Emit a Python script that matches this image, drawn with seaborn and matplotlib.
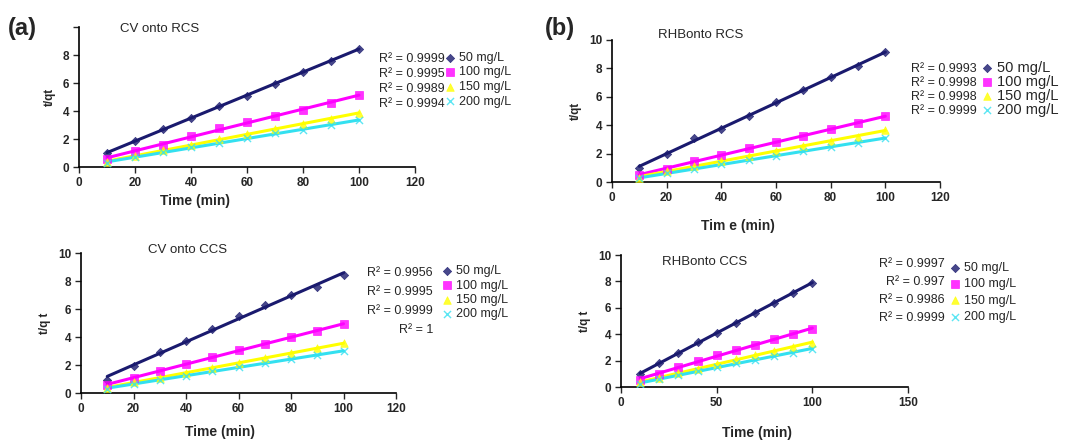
import numpy as np
import pandas as pd
import matplotlib
matplotlib.use("Agg")
import matplotlib.pyplot as plt
import seaborn as sns

# tiempos y series
tiempo = [10, 20, 30, 40, 50, 60, 70, 80, 90, 100]
concentraciones = ["50 mg/L", "100 mg/L", "150 mg/L", "200 mg/L"]

cv_rcs_50 = [1.0, 1.85, 2.7, 3.5, 4.35, 5.1, 5.95, 6.75, 7.6, 8.45]
cv_rcs_100 = [0.6, 1.15, 1.6, 2.2, 2.75, 3.2, 3.65, 4.1, 4.55, 5.15]
cv_rcs_150 = [0.35, 0.8, 1.2, 1.6, 2.0, 2.35, 2.7, 3.1, 3.45, 3.85]
cv_rcs_200 = [0.3, 0.7, 1.05, 1.4, 1.75, 2.05, 2.4, 2.65, 3.0, 3.35]
cv_rcs_r2 = ["0.9999", "0.9995", "0.9989", "0.9994"]

rhb_rcs_50 = [1.0, 2.0, 3.1, 3.7, 4.65, 5.6, 6.45, 7.4, 8.2, 9.15]
rhb_rcs_100 = [0.5, 0.95, 1.45, 1.9, 2.4, 2.8, 3.25, 3.7, 4.15, 4.65]
rhb_rcs_150 = [0.3, 0.75, 1.15, 1.5, 1.85, 2.2, 2.55, 2.9, 3.2, 3.65]
rhb_rcs_200 = [0.25, 0.6, 0.95, 1.25, 1.55, 1.85, 2.15, 2.5, 2.75, 3.1]
rhb_rcs_r2 = ["0.9993", "0.9998", "0.9998", "0.9999"]

cv_ccs_50 = [0.95, 1.9, 2.9, 3.75, 4.6, 5.5, 6.3, 7.0, 7.55, 8.4]
cv_ccs_100 = [0.6, 1.05, 1.55, 2.1, 2.6, 3.05, 3.5, 4.0, 4.45, 4.9]
cv_ccs_150 = [0.35, 0.8, 1.1, 1.45, 1.8, 2.15, 2.5, 2.85, 3.2, 3.55]
cv_ccs_200 = [0.3, 0.65, 0.95, 1.25, 1.55, 1.85, 2.15, 2.4, 2.7, 3.0]
cv_ccs_r2 = ["0.9956", "0.9995", "0.9999", "1"]

rhb_ccs_50 = [0.95, 1.8, 2.6, 3.4, 4.1, 4.85, 5.6, 6.4, 7.1, 7.9]
rhb_ccs_100 = [0.55, 1.0, 1.5, 1.95, 2.45, 2.8, 3.2, 3.6, 4.0, 4.4]
rhb_ccs_150 = [0.35, 0.7, 1.05, 1.4, 1.75, 2.1, 2.4, 2.75, 3.05, 3.35]
rhb_ccs_200 = [0.25, 0.6, 0.9, 1.2, 1.5, 1.8, 2.05, 2.35, 2.6, 2.9]
rhb_ccs_r2 = ["0.9997", "0.997", "0.9986", "0.9999"]

colores = ["#1a1a6e", "#ff00ff", "#ffff00", "#33e0f0"]
marcadores = ["D", "s", "^", "x"]
tamanos = [18, 26, 30, 26]

sns.set_style("ticks")
plt.rcParams['font.family'] = ['Liberation Sans', 'DejaVu Sans']

fig = plt.figure(figsize=(10.71, 4.44), dpi=100)
W, H = 1071, 444


def caja(x0, y0, x1, y1):
    # pasa pixeles (origen arriba-izq) a fraccion de figura
    return [x0 / W, 1 - y1 / H, (x1 - x0) / W, (y1 - y0) / H]


def panel(rect, series, r2, titulo, titulo_xy, xmax, xstep, ymax_label, ylab,
          r2_xy, paso_r2, leg_xy, paso_leg, fs_r2, fs_leg, xlab_xy, xlab_txt="Time (min)"):
    ax = fig.add_axes(caja(*rect))
    for serie, nombre, c, m, s in zip(series, concentraciones, colores, marcadores, tamanos):
        d = pd.DataFrame({"t": tiempo, "tq": serie})
        kws = dict(s=s, color=c, zorder=3)
        if m != "x":
            kws["edgecolor"] = c
            kws["linewidths"] = 0.5
        else:
            kws["linewidths"] = 1.0
        sns.regplot(data=d, x="t", y="tq", ax=ax, ci=None, truncate=True,
                    marker=m, label=nombre, scatter_kws=kws,
                    line_kws=dict(color=c, lw=2.2, zorder=2))
    ax.set_xlim(0, xmax)
    ax.set_ylim(0, 10)
    ax.set_xticks(np.arange(0, xmax + 1, xstep))
    ax.set_yticks([0, 2, 4, 6, 8, 10])
    if not ymax_label:
        ax.set_yticklabels(["0", "2", "4", "6", "8", ""])
    ax.tick_params(labelsize=8.5, length=4, width=1, direction="out", pad=3)
    for lab in ax.get_xticklabels() + ax.get_yticklabels():
        lab.set_fontweight("bold")
    sns.despine(ax=ax)
    for sp in ["left", "bottom"]:
        ax.spines[sp].set_linewidth(1.2)
        ax.spines[sp].set_color("black")
    ax.set_xlabel("")
    ax.set_ylabel(ylab, fontsize=8.5, fontweight="bold", labelpad=5)
    fig.text(titulo_xy[0] / W, 1 - titulo_xy[1] / H, titulo, fontsize=9.5,
             ha="left", va="center")
    fig.text(xlab_xy[0] / W, 1 - xlab_xy[1] / H, xlab_txt,
             fontsize=10, fontweight="bold", ha="center", va="center")
    # valores de R2
    for i, txt in enumerate(r2):
        fig.text(r2_xy[0] / W, 1 - (r2_xy[1] + paso_r2 * i) / H,
                 "R² = " + txt, fontsize=fs_r2, ha="right", va="center")
    ax.legend(loc="upper left", bbox_to_anchor=(leg_xy[0] / W, 1 - leg_xy[1] / H),
              bbox_transform=fig.transFigure, frameon=False, fontsize=fs_leg,
              handlelength=0.8, handletextpad=0.3, borderpad=0, borderaxespad=0,
              labelspacing=paso_leg, markerscale=1.0)
    return ax


panel((79, 27, 415, 167), [cv_rcs_50, cv_rcs_100, cv_rcs_150, cv_rcs_200], cv_rcs_r2,
      "CV onto RCS", (120, 29), 120, 20, False, "t/qt",
      (445, 59), 15, (445, 52), 0.2, 9, 9, (195, 201))
panel((612, 40, 940, 182), [rhb_rcs_50, rhb_rcs_100, rhb_rcs_150, rhb_rcs_200], rhb_rcs_r2,
      "RHBonto RCS", (658, 35), 120, 20, True, "t/qt",
      (977, 69), 14, (981, 61), 0.0, 9, 10.5, (738, 226), "Tim e (min)")
panel((81, 253, 396, 393), [cv_ccs_50, cv_ccs_100, cv_ccs_150, cv_ccs_200], cv_ccs_r2,
      "CV onto CCS", (148, 250), 120, 20, True, "t/q t",
      (433, 273), 19, (442, 265), 0.2, 9, 9, (220, 432))
panel((621, 255, 908, 387), [rhb_ccs_50, rhb_ccs_100, rhb_ccs_150, rhb_ccs_200], rhb_ccs_r2,
      "RHBonto CCS", (662, 262), 150, 50, True, "t/q t",
      (945, 264), 18, (950, 262), 0.35, 9, 9, (757, 433))

fig.text(8 / W, 1 - 28 / H, "(a)", fontsize=17, fontweight="bold", ha="left", va="center")
fig.text(545 / W, 1 - 28 / H, "(b)", fontsize=17, fontweight="bold", ha="left", va="center")

fig.savefig("out.png", dpi=100, facecolor="white")
